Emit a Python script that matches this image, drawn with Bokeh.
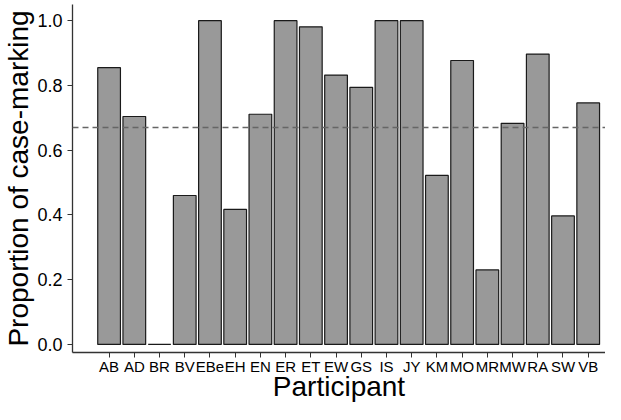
import numpy as np
from bokeh.plotting import figure
from bokeh.models import Range1d, FixedTicker, Span, ColumnDataSource, PrintfTickFormatter
from bokeh.embed import file_html
from bokeh.resources import INLINE

participants = ["AB", "AD", "BR", "BV", "EBe", "EH", "EN", "ER", "ET", "EW",
                "GS", "IS", "JY", "KM", "MO", "MR", "MW", "RA", "SW", "VB"]
proportions = [0.855, 0.704, 0.0, 0.46, 1.0, 0.417, 0.711, 1.0, 0.981, 0.832,
               0.794, 1.0, 1.0, 0.522, 0.877, 0.230, 0.683, 0.897, 0.397, 0.746]
reference_level = 0.67
y_ticks = [0.0, 0.2, 0.4, 0.6, 0.8, 1.0]

xpos = list(range(len(participants)))
src = ColumnDataSource(dict(x=xpos, top=proportions, name=participants))

FONT = "Liberation Sans"

p = figure(width=605, height=404, output_backend="svg", toolbar_location=None,
           x_range=Range1d(-1.451, 19.686), y_range=Range1d(-0.025, 1.05),
           min_border_left=64, min_border_top=4, min_border_right=0,
           min_border_bottom=40)

p.vbar(x="x", top="top", bottom=0, width=0.9, source=src,
       fill_color="#999999", line_color="#1a1a1a", line_width=1.2)

p.add_layout(Span(location=reference_level, dimension="width",
                  line_color="#666666", line_width=1.3, line_dash="6 4"))

p.outline_line_color = None
p.background_fill_color = "white"
p.border_fill_color = "white"
p.grid.visible = False

xa = p.xaxis[0]
xa.ticker = FixedTicker(ticks=xpos)
xa.major_label_overrides = {i: n for i, n in enumerate(participants)}
xa.minor_tick_line_color = None
xa.major_tick_in = 0
xa.major_tick_out = 5
xa.major_label_standoff = 0
xa.major_label_text_font = FONT
xa.major_label_text_font_size = "15px"
xa.major_label_text_color = "black"
xa.axis_label = "Participant"
xa.axis_label_text_font = FONT
xa.axis_label_text_font_size = "28px"
xa.axis_label_text_font_style = "normal"
xa.axis_label_text_color = "black"
xa.axis_label_standoff = -7
xa.axis_line_color = "#333333"
xa.axis_line_width = 1.3
xa.major_tick_line_color = "#333333"

ya = p.yaxis[0]
ya.ticker = FixedTicker(ticks=y_ticks)
ya.formatter = PrintfTickFormatter(format="%.1f")
ya.minor_tick_line_color = None
ya.major_tick_in = 0
ya.major_tick_out = 5
ya.major_label_standoff = 5
ya.major_label_text_font = FONT
ya.major_label_text_font_size = "18px"
ya.major_label_text_color = "black"
ya.axis_label = "Proportion of case-marking"
ya.axis_label_text_font = FONT
ya.axis_label_text_font_size = "28px"
ya.axis_label_text_font_style = "normal"
ya.axis_label_text_color = "black"
ya.axis_label_standoff = 0
ya.axis_line_color = "#333333"
ya.axis_line_width = 1.3
ya.major_tick_line_color = "#333333"

open("out.html", "w").write(file_html(p, INLINE))
